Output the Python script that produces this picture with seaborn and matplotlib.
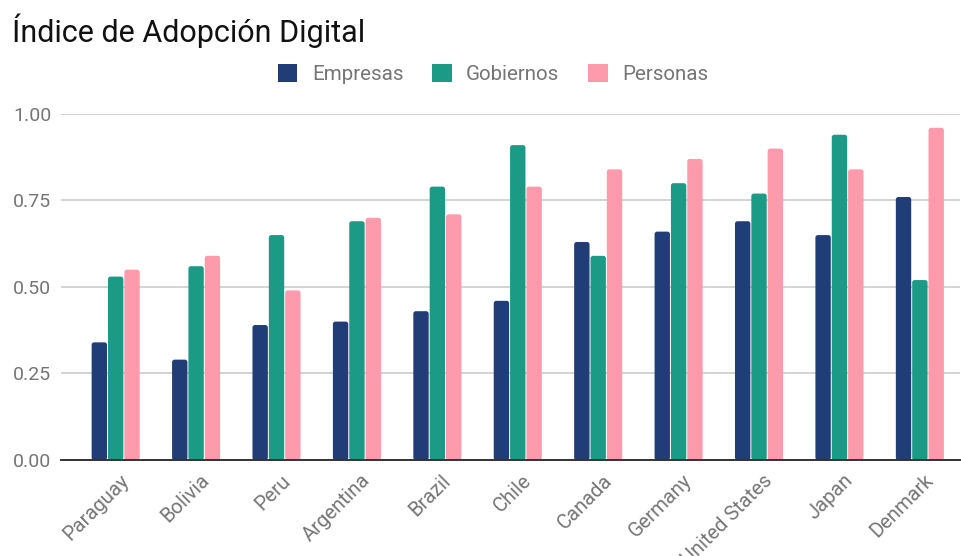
import matplotlib
matplotlib.use("Agg")
import matplotlib.pyplot as plt
import matplotlib.transforms as mtransforms
from matplotlib.patches import FancyBboxPatch, Rectangle
import seaborn as sns
import pandas as pd

countries = ["Paraguay", "Bolivia", "Peru", "Argentina", "Brazil", "Chile",
             "Canada", "Germany", "United States", "Japan", "Denmark"]
empresas = [0.34, 0.29, 0.39, 0.40, 0.43, 0.46, 0.63, 0.66, 0.69, 0.65, 0.76]
gobiernos = [0.53, 0.56, 0.65, 0.69, 0.79, 0.91, 0.59, 0.80, 0.77, 0.94, 0.52]
personas = [0.55, 0.59, 0.49, 0.70, 0.71, 0.79, 0.84, 0.87, 0.90, 0.84, 0.96]
series_names = ["Empresas", "Gobiernos", "Personas"]
y_ticks = [0.0, 0.25, 0.5, 0.75, 1.0]
y_tick_labels = ["0.00", "0.25", "0.50", "0.75", "1.00"]

colors = ["#213d77", "#1b9a86", "#fd9aab"]

df = pd.DataFrame({
    "País": countries * 3,
    "Serie": [s for s in series_names for _ in countries],
    "Valor": empresas + gobiernos + personas,
})

sns.set_theme(style="white")
plt.rcParams["font.family"] = ["Roboto", "DejaVu Sans"]

fig = plt.figure(figsize=(9.62, 5.56), dpi=100)
ax = fig.add_axes([0.0634, 0.1727, 0.9346, 0.6223])

sns.barplot(data=df, x="País", y="Valor", hue="Serie", order=countries,
            hue_order=series_names, palette=colors, width=0.61, gap=0.06,
            errorbar=None, ax=ax, legend=False, linewidth=0, saturation=1)

ax.set_ylim(0, 1.0)
ax.set_xlim(-0.68, 10.5)

# give every bar slightly rounded corners
fig.canvas.draw()
bbox = ax.get_window_extent()
px_x = bbox.width / (ax.get_xlim()[1] - ax.get_xlim()[0])
px_y = bbox.height / (ax.get_ylim()[1] - ax.get_ylim()[0])
radius_px = 2.5
for bar in [p for p in ax.patches if isinstance(p, Rectangle)]:
    x, y = bar.get_xy()
    w, h = bar.get_width(), bar.get_height()
    rounded = FancyBboxPatch((x, y), w, h,
                             boxstyle=f"round,pad=0,rounding_size={radius_px / px_x}",
                             mutation_aspect=px_x / px_y,
                             facecolor=bar.get_facecolor(), edgecolor="none",
                             zorder=bar.get_zorder())
    bar.remove()
    ax.add_patch(rounded)

ax.set_yticks(y_ticks)
ax.set_yticklabels(y_tick_labels)
ax.yaxis.grid(True, color="#cccccc", linewidth=1.2)
ax.set_axisbelow(True)
ax.set_xlabel("")
ax.set_ylabel("")
for side in ["top", "right", "left"]:
    ax.spines[side].set_visible(False)
ax.spines["bottom"].set_color("#333333")
ax.spines["bottom"].set_linewidth(1.4)
ax.spines["bottom"].set_zorder(5)
ax.tick_params(axis="both", length=0, colors="#757575", labelsize=14)
ax.tick_params(axis="y", pad=7)

# rotated country labels, anchored at their right end just below the axis
offset = mtransforms.ScaledTranslation(4 / 100, -6 / 100, fig.dpi_scale_trans)
for lbl in ax.get_xticklabels():
    lbl.set_rotation(45)
    lbl.set_ha("right")
    lbl.set_va("top")
    lbl.set_rotation_mode("anchor")
    lbl.set_fontsize(14.5)
    lbl.set_transform(lbl.get_transform() + offset)
    lbl.set_color("#757575")

fig.text(12 / 962, 1 - 31 / 556, "Índice de Adopción Digital", fontsize=22,
         color="#111111", ha="left", va="center")

handles = [Rectangle((0, 0), 1, 1, facecolor=c, edgecolor="none") for c in colors]
fig.legend(handles, series_names, loc="center", bbox_to_anchor=(493 / 962, 1 - 74 / 556),
           ncol=3, frameon=False, fontsize=14.8, labelcolor="#757575",
           handlelength=0.95, handleheight=0.95, handletextpad=0.7, columnspacing=1.4)

fig.savefig("out.png", dpi=100)
